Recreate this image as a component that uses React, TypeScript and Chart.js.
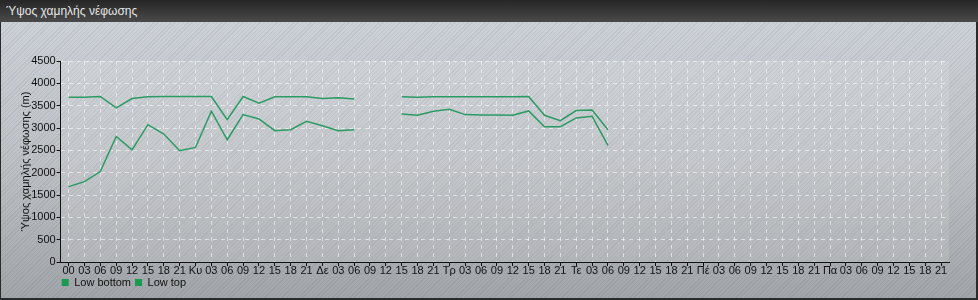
import React, { useEffect, useRef } from "react";
import { Chart, registerables } from "chart.js";

Chart.register(...registerables);

const titleText = "Ύψος χαμηλής νέφωσης";
const yAxisTitle = "Ύψος χαμηλής νέφωσης (m)";
const dayLabels = ["00", "Κυ", "Δε", "Τρ", "Τε", "Πέ", "Πα"];
const hourLabels = ["03", "06", "09", "12", "15", "18", "21"];
const yTicks = [0, 500, 1000, 1500, 2000, 2500, 3000, 3500, 4000, 4500];

const lowBottom: (number | null)[] = [
  1687, 1800, 2025, 2812, 2512, 3075, 2865, 2490,
  2565, 3375, 2737, 3300, 3202, 2940, 2962, 3150,
  3052, 2940, 2962, null, null, 3315, 3285, 3375,
  3420, 3300, 3292, 3292, 3285, 3382, 3030, 3030,
  3225, 3262, 2610, null, null, null, null, null,
  null, null, null, null, null, null, null, null,
  null, null, null, null, null, null, null, null,
];

const lowTop: (number | null)[] = [
  3690, 3690, 3705, 3450, 3660, 3700, 3705, 3705,
  3705, 3705, 3187, 3705, 3555, 3700, 3700, 3700,
  3660, 3675, 3652, null, null, 3697, 3690, 3697,
  3697, 3697, 3697, 3697, 3697, 3705, 3285, 3165,
  3390, 3405, 2962, null, null, null, null, null,
  null, null, null, null, null, null, null, null,
  null, null, null, null, null, null, null, null,
];

const categories: string[] = [];
dayLabels.forEach((d) => {
  categories.push(d);
  hourLabels.forEach((h) => categories.push(h));
});

const LINE = "#2b9a63";
const FONT = "'Liberation Sans', Arial, sans-serif";

const plotBg = {
  id: "plotBg",
  afterLayout(chart: any) {
    const lg = chart.legend;
    if (lg && chart.chartArea) {
      const w = lg.right - lg.left;
      lg.left = chart.chartArea.left - 3;
      lg.right = lg.left + w;
    }
    const xs = chart.scales.x;
    if (xs) {
      xs.bottom = xs.top + 20;
      xs.height = 20;
    }
  },
  beforeDraw(chart: any) {
    const { ctx, chartArea } = chart;
    if (!chartArea) return;
    ctx.save();
    ctx.fillStyle = "rgba(255,255,255,0.12)";
    ctx.fillRect(chartArea.left, chartArea.top, chartArea.right - chartArea.left, chartArea.bottom - chartArea.top);
    ctx.restore();
  },
};

export default function App() {
  const ref = useRef<HTMLCanvasElement | null>(null);
  useEffect(() => {
    if (!ref.current) return;
    const chart = new Chart(ref.current, {
      type: "line",
      data: {
        labels: categories,
        datasets: [
          { label: "Low bottom", data: lowBottom, borderColor: LINE, backgroundColor: LINE, borderWidth: 1.5, pointRadius: 0, tension: 0, spanGaps: false },
          { label: "Low top", data: lowTop, borderColor: LINE, backgroundColor: LINE, borderWidth: 1.5, pointRadius: 0, tension: 0, spanGaps: false },
        ],
      },
      plugins: [plotBg],
      options: {
        responsive: false,
        animation: false,
        layout: { padding: { top: 61, right: 29, left: 15, bottom: 2 } },
        plugins: {
          legend: {
            position: "bottom",
            align: "start",
            labels: {
              boxWidth: 7,
              boxHeight: 7,
              padding: 4,
              color: "#111",
              font: { family: FONT, size: 11 },
              generateLabels: (c: any) =>
                c.data.datasets.map((ds: any, i: number) => ({
                  text: ds.label,
                  fillStyle: "#1a9a50",
                  strokeStyle: "#1a9a50",
                  lineWidth: 0,
                  datasetIndex: i,
                  fontColor: "#111",
                })),
            },
          },
          tooltip: { enabled: false },
        },
        scales: {
          x: {
            type: "category",
            offset: true,
            afterFit: (s: any) => {
              s.height = 11;
            },
            border: { color: "#111", width: 1, dash: [4, 4] },
            grid: {
              offset: false,
              color: "rgba(255,255,255,0.55)",
              tickColor: "#111",
              tickBorderDash: [],
              tickLength: 4,
              drawOnChartArea: true,
            },
            ticks: {
              autoSkip: false,
              maxRotation: 0,
              minRotation: 0,
              padding: -2,
              color: "#111",
              font: { family: FONT, size: 11 },
            },
          },
          y: {
            min: 0,
            max: 4500,
            border: { color: "#111", width: 1, dash: [4, 4] },
            afterBuildTicks: (s: any) => {
              s.ticks = yTicks.map((v) => ({ value: v }));
            },
            grid: {
              color: "rgba(255,255,255,0.55)",
              tickColor: "#111",
              tickBorderDash: [],
              tickLength: 4,
            },
            ticks: {
              padding: 1,
              color: "#111",
              font: { family: FONT, size: 11 },
              callback: (v: any) => String(v),
            },
            title: {
              display: true,
              text: yAxisTitle,
              color: "#111",
              padding: { top: 4, bottom: -2 },
              font: { family: FONT, size: 11 },
            },
          },
        },
      },
    });
    return () => chart.destroy();
  }, []);

  return (
    <div style={{ position: "relative", width: 978, height: 300, overflow: "hidden" }}>
      <style>{`body{margin:0}`}</style>
      <div
        style={{
          position: "absolute",
          left: 0,
          top: 22,
          width: 978,
          height: 278,
          boxSizing: "border-box",
          borderLeft: "1px solid #2a2a2a",
          borderRight: "2px solid #2a2a2a",
          borderBottom: "2px solid #2a2a2a",
          background:
            "repeating-linear-gradient(135deg, rgba(90,100,110,0.11) 0px, rgba(90,100,110,0.11) 1px, rgba(255,255,255,0) 1px, rgba(255,255,255,0) 3px), linear-gradient(to bottom, #cdd2d8 0%, #bec1c5 50%, #a2a5a9 100%)",
        }}
      />
      <div
        style={{
          position: "absolute",
          left: 0,
          top: 0,
          width: 978,
          height: 22,
          background: "linear-gradient(to bottom, #262626, #4a4a4a)",
          color: "#e6e6e6",
          font: "12px 'Liberation Sans', Arial, sans-serif",
          lineHeight: "22px",
          paddingLeft: 6,
          boxSizing: "border-box",
        }}
      >
        {titleText}
      </div>
      <canvas ref={ref} width={978} height={300} style={{ position: "absolute", left: 0, top: 0 }} />
    </div>
  );
}
